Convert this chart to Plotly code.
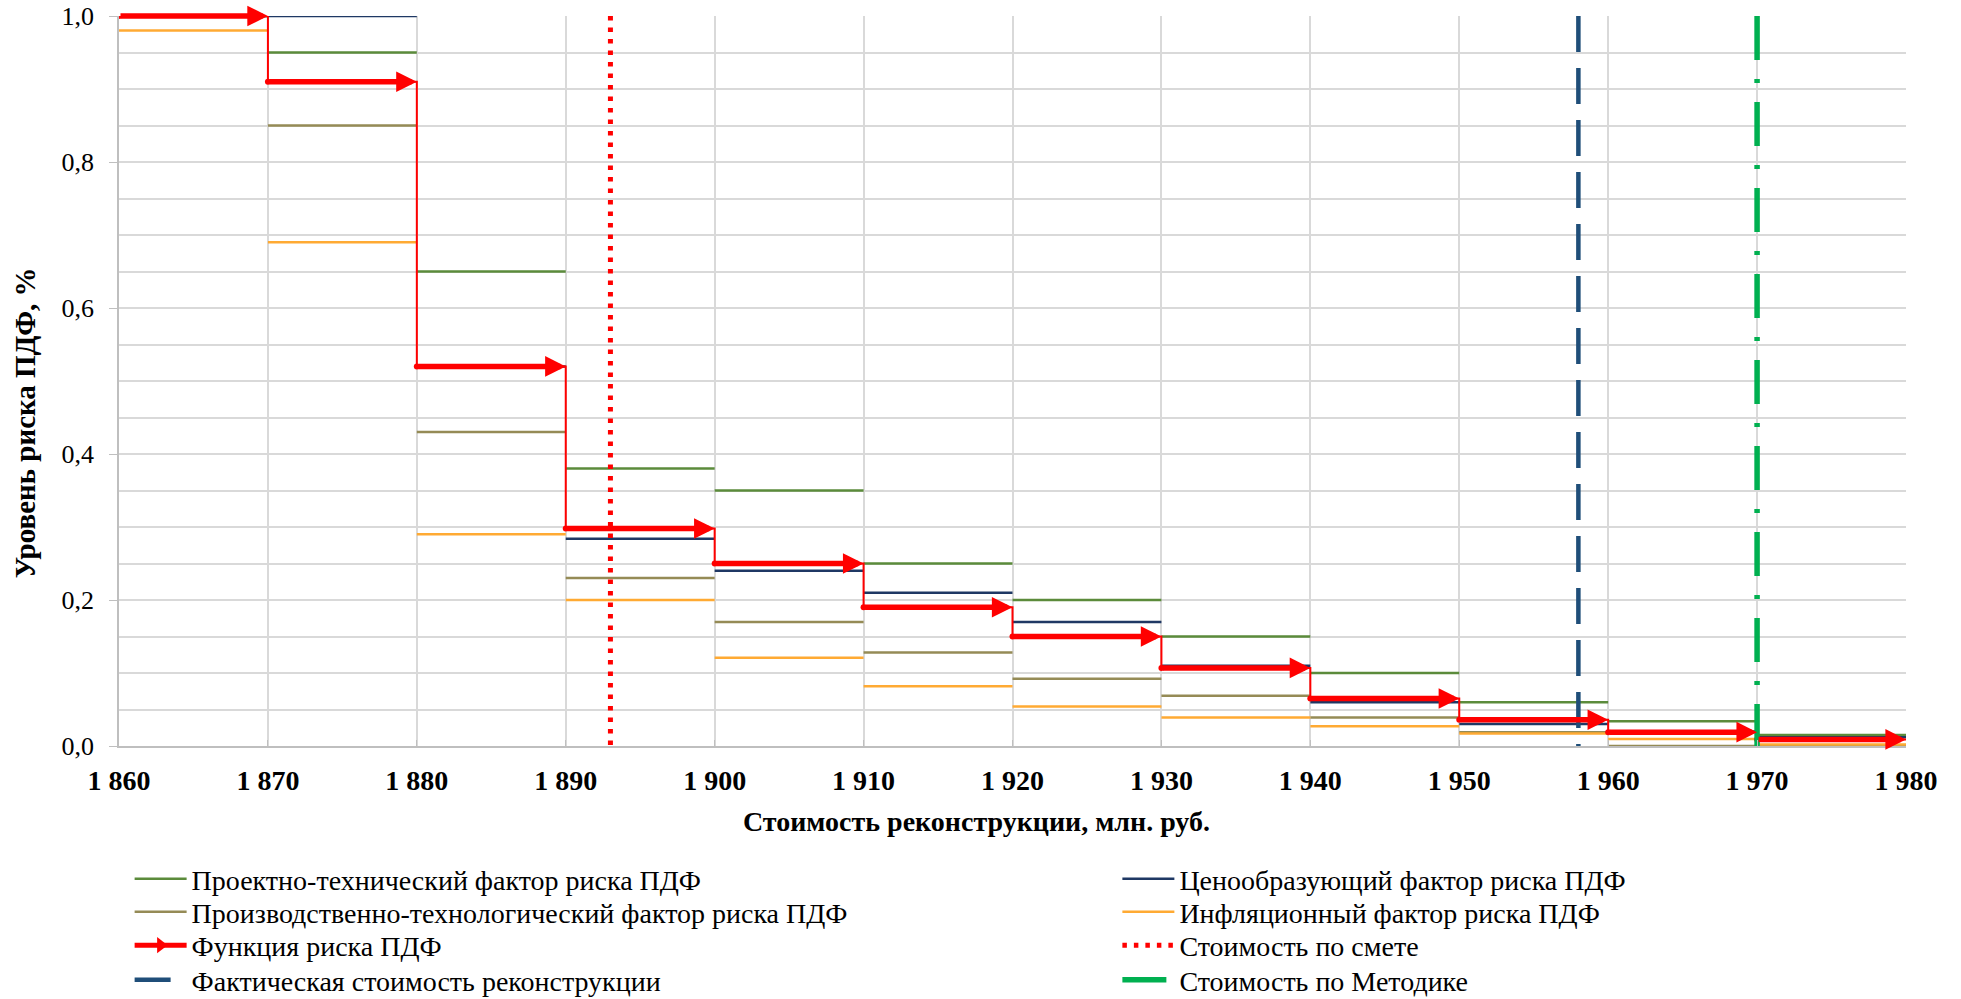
import plotly.graph_objects as go

# ---------------- data ----------------
edges = [1860, 1870, 1880, 1890, 1900, 1910, 1920, 1930, 1940, 1950, 1960, 1970, 1980]
tech_risk = [1.0, 0.95, 0.65, 0.38, 0.35, 0.25, 0.20, 0.15, 0.10, 0.06, 0.034, 0.015]
price_risk = [1.0, 1.0, 0.52, 0.284, 0.24, 0.21, 0.17, 0.11, 0.06, 0.03, 0.02, 0.012]
prod_risk = [1.0, 0.85, 0.43, 0.23, 0.17, 0.128, 0.092, 0.069, 0.039, 0.019, 0.0, 0.0]
infl_risk = [0.98, 0.69, 0.29, 0.20, 0.121, 0.082, 0.054, 0.039, 0.027, 0.017, 0.0096, 0.002]
risk_func = [1.0, 0.91, 0.52, 0.298, 0.25, 0.19, 0.15, 0.107, 0.065, 0.036, 0.019, 0.009]

cost_estimate = 1893      # Стоимость по смете
cost_actual = 1958        # Фактическая стоимость реконструкции
cost_method = 1970        # Стоимость по Методике

x_title = "Стоимость реконструкции, млн. руб."
y_title = "Уровень риска ПДФ, %"

names = {
    "tech": "Проектно-технический фактор риска ПДФ",
    "price": "Ценообразующий фактор риска ПДФ",
    "prod": "Производственно-технологический фактор риска ПДФ",
    "infl": "Инфляционный фактор риска ПДФ",
    "risk": "Функция риска ПДФ",
    "est": "Стоимость по смете",
    "act": "Фактическая стоимость реконструкции",
    "meth": "Стоимость по Методике",
}

C_TECH = "#5B8B3B"
C_PRICE = "#1F3864"
C_PROD = "#958B56"
C_INFL = "#FFAA33"
C_RED = "#FF0000"
C_ACT = "#1F4E79"
C_METH = "#00B050"

FONT = "Liberation Serif"

# one small legend per slot (two columns x four rows)
legend_slot = {"tech": "legend", "prod": "legend2", "risk": "legend3", "act": "legend4",
               "price": "legend5", "infl": "legend6", "est": "legend7", "meth": "legend8"}


def steps(vals):
    xs, ys = [], []
    for i, v in enumerate(vals):
        xs += [edges[i], edges[i + 1], None]
        ys += [v, v, None]
    return xs, ys


fig = go.Figure()

for key, vals, col in [
    ("tech", tech_risk, C_TECH),
    ("prod", prod_risk, C_PROD),
    ("price", price_risk, C_PRICE),
    ("infl", infl_risk, C_INFL),
]:
    xs, ys = steps(vals)
    fig.add_trace(go.Scatter(x=xs, y=ys, mode="lines", name=names[key],
                             line=dict(color=col, width=2.5), legend=legend_slot[key],
                             hoverinfo="skip"))

# thin connecting line of the risk function
fig.add_trace(go.Scatter(x=edges, y=risk_func + [risk_func[-1]], mode="lines",
                         line=dict(color=C_RED, width=2, shape="hv"),
                         showlegend=False, hoverinfo="skip"))
# round start points of arrows
fig.add_trace(go.Scatter(x=edges[:-1], y=risk_func, mode="markers",
                         marker=dict(color=C_RED, size=6), showlegend=False,
                         hoverinfo="skip"))

# legend-only entry for the risk function
fig.add_trace(go.Scatter(x=[None], y=[None], mode="lines+markers", name=names["risk"],
                         line=dict(color=C_RED, width=5),
                         marker=dict(symbol="triangle-right", size=14, color=C_RED),
                         legend=legend_slot["risk"]))

# vertical reference lines
fig.add_trace(go.Scatter(x=[cost_estimate, cost_estimate], y=[1, 0], mode="lines",
                         name=names["est"], legend=legend_slot["est"],
                         line=dict(color=C_RED, width=5, dash="4.5px,7px")))
fig.add_trace(go.Scatter(x=[cost_actual, cost_actual], y=[1, 0], mode="lines",
                         name=names["act"], legend=legend_slot["act"],
                         line=dict(color=C_ACT, width=4.5, dash="36px,16px")))
fig.add_trace(go.Scatter(x=[cost_method, cost_method], y=[1, 0], mode="lines",
                         name=names["meth"], legend=legend_slot["meth"],
                         line=dict(color=C_METH, width=5.5, dash="44px,19px,4px,19px")))

# arrows of the risk function
for i, v in enumerate(risk_func):
    fig.add_annotation(x=edges[i + 1], y=v, ax=edges[i], ay=v,
                       xref="x", yref="y", axref="x", ayref="y",
                       showarrow=True, arrowhead=2, arrowsize=0.75, arrowwidth=5.5,
                       arrowcolor=C_RED, text="", standoff=0, startstandoff=0)

# axis titles
fig.add_annotation(text=y_title, xref="paper", yref="paper", x=-0.0526, y=0.442,
                   textangle=-90, showarrow=False, xanchor="center", yanchor="middle",
                   font=dict(family=FONT, size=29, weight="bold", color="black"))
fig.add_annotation(text=x_title, xref="paper", yref="paper", x=0.48, y=-0.1034,
                   showarrow=False, xanchor="center", yanchor="middle",
                   font=dict(family=FONT, size=28, weight="bold", color="black"))

legend_common = dict(font=dict(family=FONT, size=28, color="black"),
                     xref="container", yref="container", xanchor="left", yanchor="middle",
                     itemwidth=52, bgcolor="rgba(0,0,0,0)", orientation="v")

W, H = 1961, 999
col_x = [0.0661, 0.5698]
row_y = [879, 912, 945.5, 980]
legend_layout = {}
for idx, key in enumerate(["tech", "prod", "risk", "act", "price", "infl", "est", "meth"]):
    c, r = divmod(idx, 4)
    legend_layout[legend_slot[key]] = dict(x=col_x[c], y=1 - row_y[r] / H, **legend_common)

fig.update_layout(
    width=W, height=H,
    margin=dict(l=119, r=55, t=16, b=253, autoexpand=False),
    paper_bgcolor="white", plot_bgcolor="white",
    separators=", ",
    font=dict(family=FONT, color="black"),
    xaxis=dict(range=[1860, 1980], dtick=10, tick0=1860, tickformat=",d", tickangle=0,
               showgrid=True, gridcolor="#D9D9D9", gridwidth=1.5,
               showline=True, linecolor="#BFBFBF", linewidth=1.5,
               ticks="inside", ticklen=6, tickcolor="#BFBFBF",
               ticklabelstandoff=9,
               tickfont=dict(family=FONT, size=28, weight="bold", color="black"),
               zeroline=False, automargin=False),
    yaxis=dict(range=[0, 1], dtick=0.2, tick0=0, tickformat=".1f",
               showgrid=True, gridcolor="#D9D9D9", gridwidth=1.5,
               minor=dict(dtick=0.05, showgrid=True, gridcolor="#D9D9D9", gridwidth=1.5),
               showline=True, linecolor="#BFBFBF", linewidth=1.5,
               ticks="outside", ticklen=8, tickcolor="#BFBFBF",
               ticklabelstandoff=10,
               tickfont=dict(family=FONT, size=26, color="black"),
               zeroline=False, automargin=False),
    **legend_layout,
)

fig.write_html("out.html", config={"displayModeBar": False},
               post_script="document.body.style.margin='0px';")
